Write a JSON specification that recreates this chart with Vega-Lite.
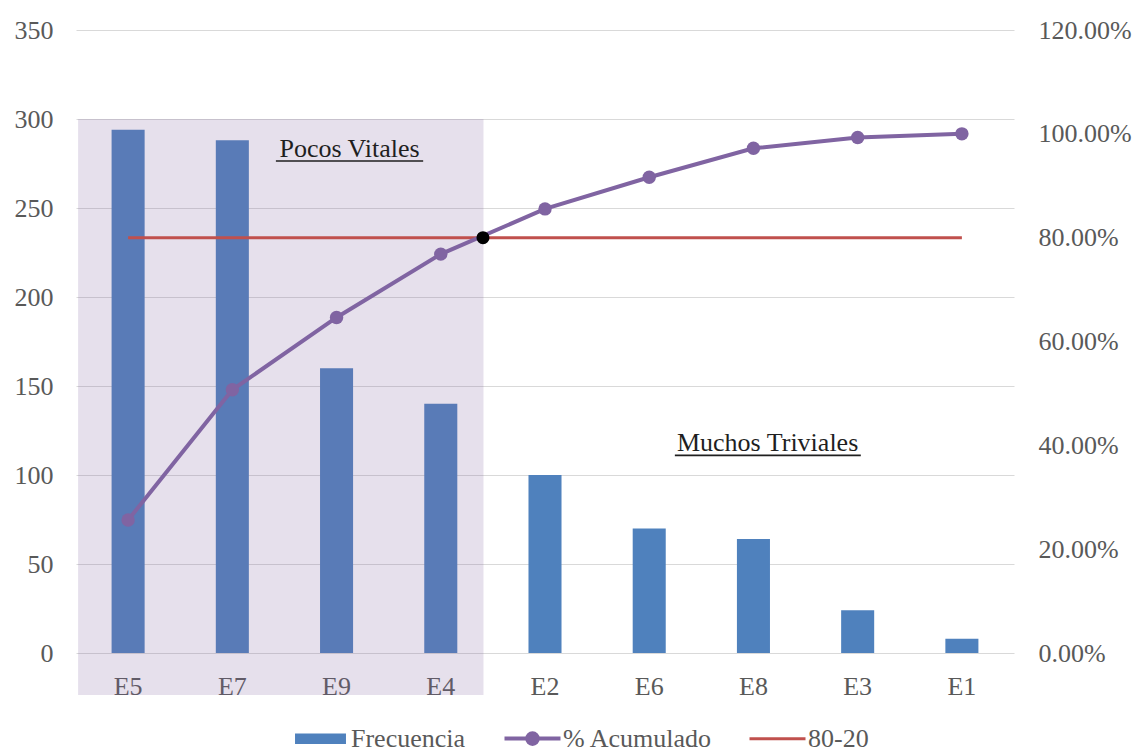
{
  "$schema": "https://vega.github.io/schema/vega-lite/v6.json",
  "width": 938,
  "height": 623,
  "autosize": "none",
  "padding": {"left": 76, "top": 30, "right": 122, "bottom": 99},
  "background": "white",
  "config": {
    "font": "Liberation Serif",
    "view": {"stroke": null},
    "axis": {"labelFont": "Liberation Serif", "labelFontSize": 26, "labelColor": "#595959", "ticks": false, "domain": false, "grid": false, "title": null},
    "legend": {"labelFont": "Liberation Serif", "labelFontSize": 26, "labelColor": "#595959"}
  },
  "data": {
    "values": [
      {"cat": "E5", "freq": 294, "pct": 0.2561, "meta": 0.8},
      {"cat": "E7", "freq": 288, "pct": 0.5070, "meta": 0.8},
      {"cat": "E9", "freq": 160, "pct": 0.6463, "meta": 0.8},
      {"cat": "E4", "freq": 140, "pct": 0.7683, "meta": 0.8},
      {"cat": "E2", "freq": 100, "pct": 0.8554, "meta": 0.8},
      {"cat": "E6", "freq": 70, "pct": 0.9164, "meta": 0.8},
      {"cat": "E8", "freq": 64, "pct": 0.9721, "meta": 0.8},
      {"cat": "E3", "freq": 24, "pct": 0.9930, "meta": 0.8},
      {"cat": "E1", "freq": 8, "pct": 1.0, "meta": 0.8}
    ]
  },
  "layer": [
    {
      "mark": {"type": "bar"},
      "encoding": {
        "x": {"field": "cat", "type": "nominal", "sort": null, "scale": {"paddingInner": 0.683, "paddingOuter": 0.3415}, "axis": {"labelAngle": 0, "labelPadding": 20, "title": null}},
        "y": {"field": "freq", "type": "quantitative", "scale": {"domain": [0, 350], "nice": false}, "axis": {"orient": "left", "values": [0, 50, 100, 150, 200, 250, 300, 350], "grid": true, "gridColor": "#D9D9D9", "gridWidth": 1, "labelPadding": 23, "title": null}},
        "color": {
          "datum": "Frecuencia",
          "type": "nominal",
          "scale": {"domain": ["Frecuencia", "% Acumulado", "80-20"], "range": ["#4F81BD", "#8064A2", "#C0504D"]},
          "legend": {
            "orient": "none", "legendX": 215, "legendY": 679, "direction": "horizontal", "title": null,
            "labelFontSize": 26, "labelColor": "#595959", "labelFont": "Liberation Serif", "labelLimit": 400,
            "symbolSize": 3136, "symbolStrokeWidth": 0, "columnPadding": 30, "labelOffset": 1, "padding": 0,
            "encode": {
              "labels": {"update": {"font": {"value": "Liberation Serif"}, "fontSize": {"value": 26}, "fill": {"value": "#595959"}}},
              "symbols": {
                "update": {
                  "size": {"value": 3136},
                  "shape": {"signal": "(datum.value === 'Frecuencia' ? 'M-0.91,-0.19L0.91,-0.19L0.91,0.19L-0.91,0.19Z' : datum.value === '% Acumulado' ? 'M-1,0L1,0M-0.19,0A0.19,0.19,0,1,1,0.19,0A0.19,0.19,0,1,1,-0.19,0Z' : 'M-1,0L1,0')"},
                  "fill": {"signal": "(datum.value === 'Frecuencia' ? '#4F81BD' : datum.value === '% Acumulado' ? '#8064A2' : 'transparent')"},
                  "stroke": {"signal": "(datum.value === 'Frecuencia' ? 'transparent' : datum.value === '% Acumulado' ? '#8064A2' : '#C0504D')"},
                  "strokeWidth": {"signal": "(datum.value === 'Frecuencia' ? 0 : datum.value === '% Acumulado' ? 4 : 3)"},
                  "opacity": {"value": 1},
                  "fillOpacity": {"value": 1},
                  "strokeOpacity": {"value": 1}
                }
              }
            }
          }
        }
      }
    },
    {
      "data": {"values": [{"x1": 0.02, "x2": 3.91, "y1": 300, "y2": -23.6}]},
      "mark": {"type": "rect", "color": "#8064A2", "opacity": 0.2},
      "encoding": {
        "x": {"field": "x1", "type": "quantitative", "scale": {"domain": [0, 9], "nice": false, "zero": false}, "axis": null},
        "x2": {"field": "x2"},
        "y": {"field": "y1", "type": "quantitative", "scale": {"domain": [0, 350], "nice": false}, "axis": null},
        "y2": {"field": "y2"}
      }
    },
    {
      "mark": {"type": "line", "strokeWidth": 3},
      "encoding": {
        "x": {"field": "cat", "type": "nominal", "sort": null, "scale": {"paddingInner": 0.683, "paddingOuter": 0.3415}, "axis": null},
        "y": {"field": "meta", "type": "quantitative", "scale": {"domain": [0, 1.2], "nice": false}, "axis": null},
        "color": {"datum": "80-20", "type": "nominal"}
      }
    },
    {
      "mark": {"type": "line", "strokeWidth": 4, "point": {"filled": true, "size": 180, "opacity": 1}},
      "encoding": {
        "x": {"field": "cat", "type": "nominal", "sort": null, "scale": {"paddingInner": 0.683, "paddingOuter": 0.3415}, "axis": null},
        "y": {"field": "pct", "type": "quantitative", "scale": {"domain": [0, 1.2], "nice": false}, "axis": {"orient": "right", "values": [0, 0.2, 0.4, 0.6, 0.8, 1.0, 1.2], "format": ".2%", "labelPadding": 24, "grid": false, "title": null}},
        "color": {"datum": "% Acumulado", "type": "nominal"}
      }
    },
    {
      "data": {"values": [{"x": 3.905, "y": 0.8}]},
      "mark": {"type": "point", "filled": true, "color": "black", "size": 170, "opacity": 1},
      "encoding": {
        "x": {"field": "x", "type": "quantitative", "scale": {"domain": [0, 9], "nice": false, "zero": false}, "axis": null},
        "y": {"field": "y", "type": "quantitative", "scale": {"domain": [0, 1.2], "nice": false}, "axis": null}
      }
    },
    {
      "data": {"values": [{"x": 2.625, "y": 278.5, "t": "Pocos Vitales"}, {"x": 6.636, "y": 113.5, "t": "Muchos Triviales"}]},
      "mark": {"type": "text", "fontSize": 26, "color": "#1F1F1F", "align": "center", "baseline": "alphabetic", "font": "Liberation Serif"},
      "encoding": {
        "x": {"field": "x", "type": "quantitative", "scale": {"domain": [0, 9], "nice": false, "zero": false}, "axis": null},
        "y": {"field": "y", "type": "quantitative", "scale": {"domain": [0, 350], "nice": false}, "axis": null},
        "text": {"field": "t"}
      }
    },
    {
      "data": {"values": [{"x": 1.918, "x2": 3.331, "y": 276.4}, {"x": 5.746, "x2": 7.53, "y": 111.0}]},
      "mark": {"type": "rule", "strokeWidth": 1.6, "color": "#1F1F1F"},
      "encoding": {
        "x": {"field": "x", "type": "quantitative", "scale": {"domain": [0, 9], "nice": false, "zero": false}, "axis": null},
        "x2": {"field": "x2"},
        "y": {"field": "y", "type": "quantitative", "scale": {"domain": [0, 350], "nice": false}, "axis": null}
      }
    }
  ],
  "resolve": {"scale": {"x": "independent", "y": "independent"}}
}
